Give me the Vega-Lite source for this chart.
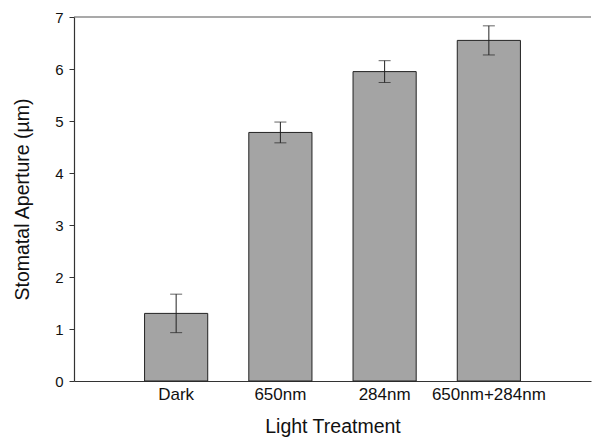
{
  "$schema": "https://vega.github.io/schema/vega-lite/v6.json",
  "autosize": {"type": "none"},
  "padding": {"left": 74, "top": 17, "right": 1, "bottom": 57},
  "width": 517,
  "height": 364,
  "background": "white",
  "config": {
    "view": {"stroke": null},
    "font": "Liberation Sans",
    "axis": {"labelFont": "Liberation Sans", "titleFont": "Liberation Sans", "labelColor": "#111", "titleColor": "#111", "titleFontWeight": "normal"}
  },
  "data": {
    "values": [
      {"treatment": "Dark", "mean": 1.30, "lower": 0.93, "upper": 1.67},
      {"treatment": "650nm", "mean": 4.78, "lower": 4.58, "upper": 4.98},
      {"treatment": "284nm", "mean": 5.95, "lower": 5.74, "upper": 6.16},
      {"treatment": "650nm+284nm", "mean": 6.55, "lower": 6.27, "upper": 6.83}
    ]
  },
  "layer": [
    {
      "mark": {"type": "bar", "fill": "#a4a4a4", "stroke": "#222", "strokeWidth": 1},
      "encoding": {
        "x": {
          "field": "treatment",
          "type": "nominal",
          "sort": null,
          "scale": {"paddingInner": 0.394, "paddingOuter": 0.677},
          "axis": {
            "title": "Light Treatment",
            "titleFontSize": 19.5,
            "titlePadding": 15,
            "labelFontSize": 17,
            "labelAngle": 0,
            "labelPadding": 5,
            "ticks": false,
            "domainColor": "#333",
            "domainWidth": 1.2
          }
        },
        "y": {
          "field": "mean",
          "type": "quantitative",
          "scale": {"domain": [0, 7], "nice": false},
          "axis": {
            "title": "Stomatal Aperture (µm)",
            "titleFontSize": 19.5,
            "titlePadding": 22,
            "labelFontSize": 15,
            "labelPadding": 6,
            "tickCount": 8,
            "tickSize": 5,
            "tickColor": "#333",
            "domainColor": "#333",
            "domainWidth": 1.2,
            "grid": false
          }
        }
      }
    },
    {
      "mark": {"type": "rule", "color": "#222", "strokeWidth": 1},
      "encoding": {
        "x": {"field": "treatment", "type": "nominal", "sort": null},
        "y": {"field": "lower", "type": "quantitative"},
        "y2": {"field": "upper"}
      }
    },
    {
      "mark": {"type": "tick", "color": "#222", "thickness": 1, "size": 12},
      "encoding": {
        "x": {"field": "treatment", "type": "nominal", "sort": null},
        "y": {"field": "upper", "type": "quantitative"}
      }
    },
    {
      "mark": {"type": "tick", "color": "#222", "thickness": 1, "size": 12},
      "encoding": {
        "x": {"field": "treatment", "type": "nominal", "sort": null},
        "y": {"field": "lower", "type": "quantitative"}
      }
    },
    {
      "data": {"values": [{"top": 7}]},
      "mark": {"type": "rule", "color": "#555", "strokeWidth": 1.2},
      "encoding": {"y": {"field": "top", "type": "quantitative"}}
    }
  ]
}
